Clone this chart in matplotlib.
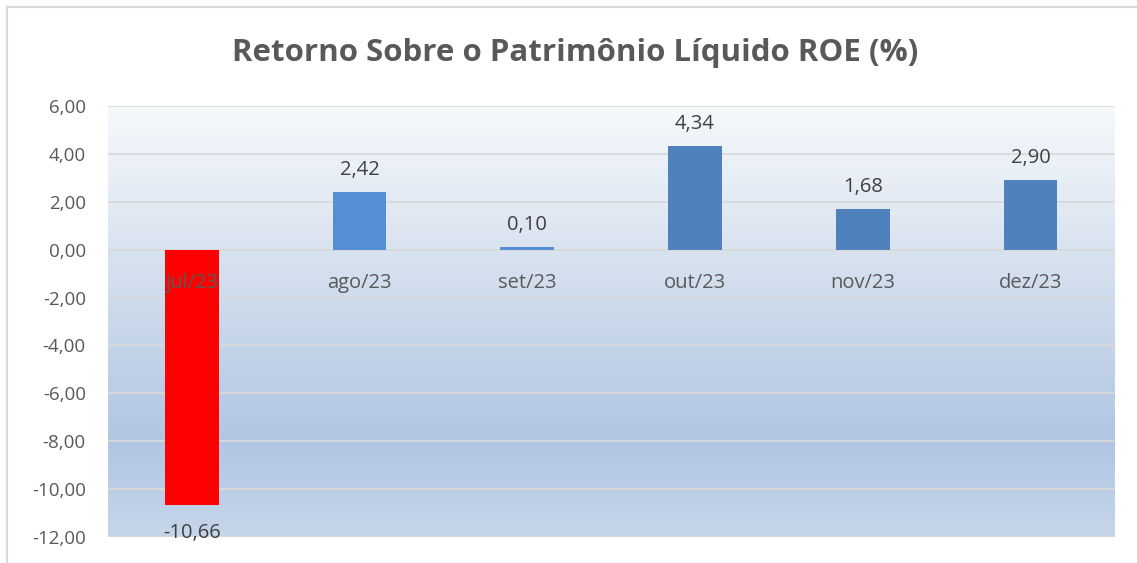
import numpy as np
import matplotlib
matplotlib.use('Agg')
from matplotlib import pyplot as plt
from matplotlib.colors import LinearSegmentedColormap

# data
months = ['jul/23', 'ago/23', 'set/23', 'out/23', 'nov/23', 'dez/23']
roe = [-10.66, 2.42, 0.10, 4.34, 1.68, 2.90]
bar_colors = ['#FF0000', '#558ED5', '#558ED5', '#4F81BD', '#4F81BD', '#4F81BD']
y_ticks = [-12, -10, -8, -6, -4, -2, 0, 2, 4, 6]

plt.rcParams['font.family'] = ['Open Sans', 'DejaVu Sans']
text_gray = '#595959'

fig = plt.figure(figsize=(11.37, 5.63), dpi=100)
ax = fig.add_axes([0.095, 0.0462, 0.885, 0.7655])

# gradient background of the plot area (white at top, light blue lower down)
grad = LinearSegmentedColormap.from_list(
    'bg', [(0.0, '#C6D6EA'), (0.22, '#B0C6E2'), (0.7, '#DCE5F1'), (1.0, '#F6F9FC')])
ax.imshow(np.linspace(0, 1, 256).reshape(-1, 1), cmap=grad, aspect='auto',
          extent=[-0.5, len(months) - 0.5, y_ticks[0], y_ticks[-1]],
          origin='lower', zorder=0)

for t in y_ticks:
    ax.axhline(t, color='#D9D9D9', lw=1.3, zorder=1)

x = np.arange(len(months))
ax.bar(x, roe, width=0.32, color=bar_colors, zorder=2)

for xi, v in zip(x, roe):
    lbl = f'{v:.2f}'.replace('.', ',')
    if v >= 0:
        ax.text(xi, v + 0.5, lbl, ha='center', va='bottom', fontsize=14.5, color='#404040', zorder=3)
    else:
        ax.text(xi, v - 0.75, lbl, ha='center', va='top', fontsize=14.5, color='#404040', zorder=3)

# category labels sit just under the zero line
for xi, m in zip(x, months):
    ax.text(xi, -1.4, m, ha='center', va='center', fontsize=14.5, color=text_gray, zorder=3)

ax.set_xlim(-0.5, len(months) - 0.5)
ax.set_ylim(y_ticks[0], y_ticks[-1])
ax.set_xticks([])
ax.set_yticks(y_ticks)
ax.set_yticklabels([f'{t:.2f}'.replace('.', ',') for t in y_ticks], fontsize=13.5, color=text_gray)
ax.tick_params(axis='y', length=0, pad=16)
for s in ax.spines.values():
    s.set_visible(False)

fig.text(0.506, 0.905, 'Retorno Sobre o Patrimônio Líquido ROE (%)', ha='center', va='center',
         fontsize=22.5, fontweight='bold', color=text_gray)

# chart border lines (left and top)
fig.add_artist(plt.Line2D([0.0065, 0.0065], [0.0, 0.988], color='#D9D9D9', lw=1.5))
fig.add_artist(plt.Line2D([0.0065, 1.0], [0.988, 0.988], color='#D9D9D9', lw=1.5))

fig.savefig('out.png', dpi=100)
